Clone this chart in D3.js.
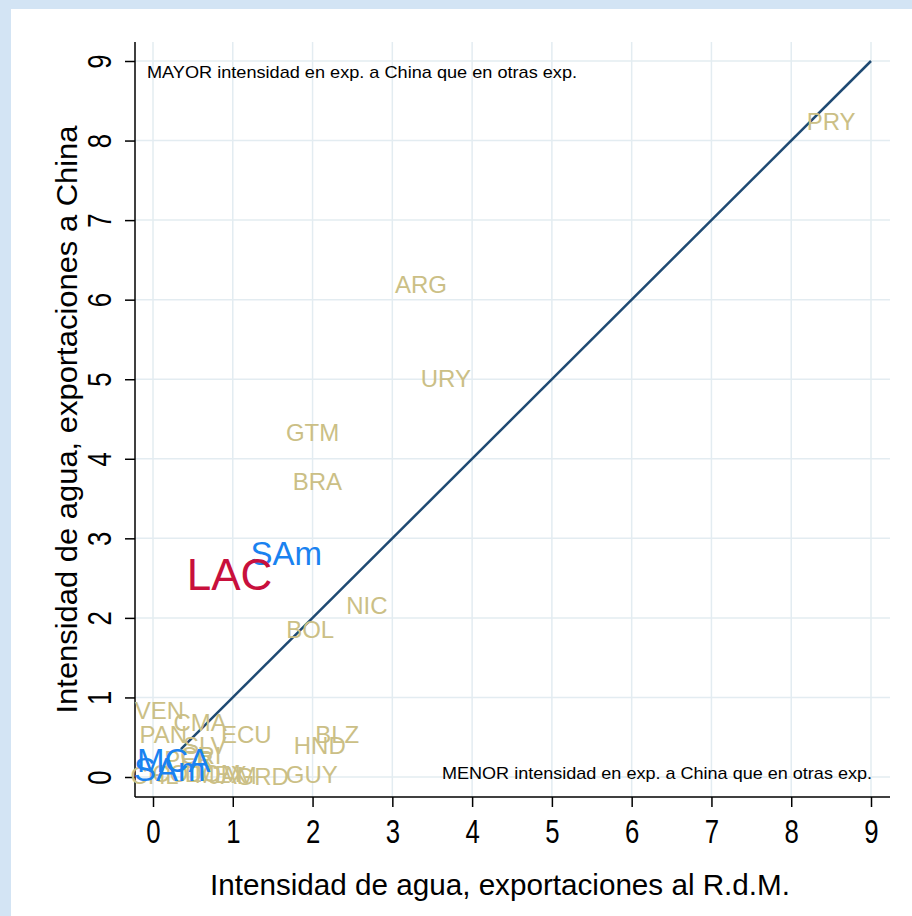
<!DOCTYPE html>
<html><head><meta charset="utf-8">
<script src="https://cdn.jsdelivr.net/npm/d3@7"></script>
<style>
html,body{margin:0;padding:0;background:#d3e4f4;}
svg{display:block;font-family:"Liberation Sans",Arial,Helvetica,sans-serif;}
</style></head>
<body>
<script>
// Country labels (khaki)
const countries = ["PRY","ARG","URY","GTM","BRA","NIC","BOL","VEN","CMA","PAN","SLV","ECU","BLZ","HND","GUY","GRD","CHL","COL","MEX","PER","CRI","DOM","JAM"];
const countryX = [8.50,3.36,3.67,2.00,2.06,2.68,1.97,0.08,0.59,0.13,0.65,1.17,2.31,2.09,1.99,1.37,0.02,0.30,0.85,0.45,0.60,0.75,1.00];
const countryY = [8.24,6.19,5.01,4.33,3.72,2.15,1.85,0.83,0.69,0.53,0.40,0.53,0.54,0.39,0.03,0.01,0.02,0.05,0.03,0.22,0.27,0.05,0.02];
// Regional aggregates (blue)
const regions = ["SAm","MCA","SAm"];
const regionX = [1.67,0.26,0.21];
const regionY = [2.81,0.21,0.09];
// Total (red)
const totalLabel = ["LAC"];
const totalX = [0.96];
const totalY = [2.54];
// 45-degree reference line
const lineX = [0.35, 9];
const ticks = [0,1,2,3,4,5,6,7,8,9];
const noteTop = "MAYOR intensidad en exp. a China que en otras exp.";
const noteBottom = "MENOR intensidad en exp. a China que en otras exp.";
const xTitle = "Intensidad de agua, exportaciones al R.d.M.";
const yTitle = "Intensidad de agua, exportaciones a China";

const W = 912, H = 916;
const svg = d3.select("body").append("svg").attr("width", W).attr("height", H);
svg.append("rect").attr("x",0).attr("y",0).attr("width",W).attr("height",H).attr("fill","#d3e4f4");
svg.append("rect").attr("x",11).attr("y",9).attr("width",W-11).attr("height",H-9).attr("fill","#ffffff");

const L = 135, R = 890, T = 42, B = 797;
const x = d3.scaleLinear().domain([0,9]).range([153,871]);
const y = d3.scaleLinear().domain([0,9]).range([777,61]);

// gridlines
const grid = svg.append("g").attr("stroke","#e3ecf1").attr("stroke-width",1.5);
ticks.forEach(t=>{
  grid.append("line").attr("x1",x(t)).attr("x2",x(t)).attr("y1",T).attr("y2",B);
  grid.append("line").attr("x1",L).attr("x2",R).attr("y1",y(t)).attr("y2",y(t));
});

// axes
const xAxis = d3.axisBottom(x).tickValues(ticks).tickSize(10).tickSizeOuter(0).tickPadding(0);
const gx = svg.append("g").attr("transform",`translate(0,${B})`).call(xAxis);
gx.select(".domain").remove();
gx.selectAll("line").attr("stroke","#000").attr("stroke-width",1.5);
gx.selectAll("text").attr("font-size",33).attr("fill","#000")
  .attr("font-family","Liberation Sans, Arial, sans-serif")
  .attr("y",0).attr("dy",0).attr("dominant-baseline","central")
  .attr("transform","translate(0,34) scale(0.78,1)");
svg.append("line").attr("x1",L).attr("x2",R).attr("y1",B).attr("y2",B).attr("stroke","#000").attr("stroke-width",1.5);

const yAxis = d3.axisLeft(y).tickValues(ticks).tickSize(10).tickSizeOuter(0).tickPadding(0);
const gy = svg.append("g").attr("transform",`translate(${L},0)`).call(yAxis);
gy.select(".domain").remove();
gy.selectAll("line").attr("stroke","#000").attr("stroke-width",1.5);
gy.selectAll("text").attr("font-size",33).attr("fill","#000")
  .attr("font-family","Liberation Sans, Arial, sans-serif")
  .attr("x",0).attr("dy",0).attr("text-anchor","middle").attr("dominant-baseline","central")
  .attr("transform","translate(-36,0) rotate(-90) scale(0.78,1)");
svg.append("line").attr("x1",L).attr("x2",L).attr("y1",T).attr("y2",B).attr("stroke","#000").attr("stroke-width",1.5);

// titles
svg.append("text").attr("x",500).attr("y",884).attr("text-anchor","middle").attr("dominant-baseline","central")
  .attr("font-size",30).attr("fill","#000").attr("textLength",580).attr("lengthAdjust","spacingAndGlyphs").text(xTitle);
svg.append("text").attr("transform",`translate(66,${(T+B)/2}) rotate(-90)`).attr("text-anchor","middle").attr("dominant-baseline","central")
  .attr("font-size",30).attr("fill","#000").attr("textLength",588).attr("lengthAdjust","spacingAndGlyphs").text(yTitle);

// notes
svg.append("text").attr("x",147).attr("y",72).attr("dominant-baseline","central").attr("font-size",17).attr("fill","#000")
  .attr("textLength",430).attr("lengthAdjust","spacingAndGlyphs").text(noteTop);
svg.append("text").attr("x",442).attr("y",773).attr("dominant-baseline","central").attr("font-size",17).attr("fill","#000")
  .attr("textLength",430).attr("lengthAdjust","spacingAndGlyphs").text(noteBottom);

// diagonal
svg.append("line").attr("x1",x(lineX[0])).attr("y1",y(lineX[0])).attr("x2",x(lineX[1])).attr("y2",y(lineX[1]))
  .attr("stroke","#1f4a73").attr("stroke-width",2.5);

// country labels
svg.append("g").selectAll("text").data(countries).join("text")
  .attr("x",(d,i)=>x(countryX[i])).attr("y",(d,i)=>y(countryY[i]))
  .attr("text-anchor","middle").attr("dominant-baseline","central")
  .attr("font-size",24).attr("fill","#cbbf86").text(d=>d);

// regions
svg.append("g").selectAll("text").data(regions).join("text")
  .attr("x",(d,i)=>x(regionX[i])).attr("y",(d,i)=>y(regionY[i]))
  .attr("text-anchor","middle").attr("dominant-baseline","central")
  .attr("font-size",33).attr("fill","#1a82f0").text(d=>d);

// total
svg.append("g").selectAll("text").data(totalLabel).join("text")
  .attr("x",(d,i)=>x(totalX[i])).attr("y",(d,i)=>y(totalY[i]))
  .attr("text-anchor","middle").attr("dominant-baseline","central")
  .attr("font-size",44).attr("fill","#c8103c").text(d=>d);
</script>
</body></html>
